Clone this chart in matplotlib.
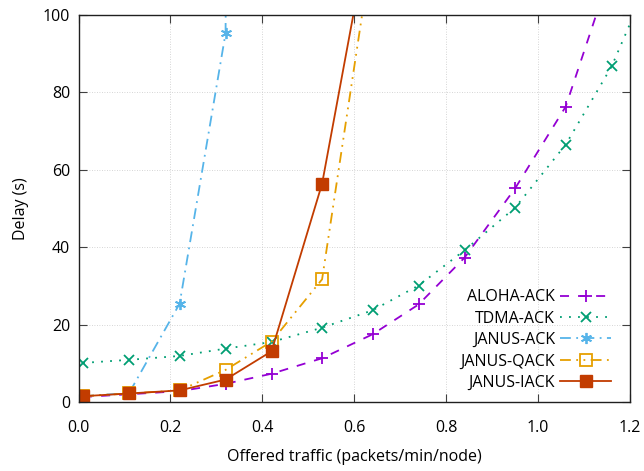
import matplotlib
matplotlib.use("Agg")
import matplotlib.pyplot as plt

plt.rcParams['font.family'] = ['Open Sans', 'DejaVu Sans']

x = [0.01, 0.11, 0.22, 0.32, 0.42, 0.53, 0.64, 0.74, 0.84, 0.95, 1.06, 1.16, 1.27]
aloha = [1.3, 2.0, 2.8, 4.7, 7.3, 11.3, 17.5, 25.2, 37.3, 55.2, 76.3, 112.0]
tdma = [10.1, 10.9, 11.9, 13.8, 15.5, 19.2, 23.7, 30.1, 39.2, 50.2, 66.5, 86.7, 117.0]
janus_ack = [1.5, 2.3, 25.4, 95.3, 2000.0]
janus_qack = [1.5, 2.2, 3.0, 8.3, 15.6, 31.7, 118.0]
janus_iack = [1.5, 2.2, 3.0, 5.8, 13.1, 56.4, 127.0]

labels = ["ALOHA-ACK", "TDMA-ACK", "JANUS-ACK", "JANUS-QACK", "JANUS-IACK"]
colors = ["#9400d3", "#009e73", "#56b4e9", "#e69f00", "#c23c00"]

fig = plt.figure(figsize=(6.44, 4.71), dpi=100)
ax = fig.add_axes([78.5/644, 1-402/471, 551.5/644, 387/471])

ax.plot(x[:len(aloha)], aloha, color=colors[0], lw=1.3, dashes=(5, 5), marker='+', ms=8, mew=1.3, label=labels[0])
ax.plot(x[:len(tdma)], tdma, color=colors[1], lw=1.3, dashes=(1, 4), marker='x', ms=7, mew=1.3, label=labels[1])
ax.plot(x[:len(janus_ack)], janus_ack, color=colors[2], lw=1.3, dashes=(6, 3, 1, 3), marker=(6, 2, 0), ms=8, mew=1.3, label=labels[2])
ax.plot(x[:len(janus_qack)], janus_qack, color=colors[3], lw=1.3, dashes=(6, 3, 1, 3, 1, 3), marker='s', ms=8, mfc='none', mew=1.3, label=labels[3])
ax.plot(x[:len(janus_iack)], janus_iack, color=colors[4], lw=1.3, marker='s', ms=8, label=labels[4])

ax.set_xlim(0, 1.2)
ax.set_ylim(0, 100)
ax.set_xticks([0.0, 0.2, 0.4, 0.6, 0.8, 1.0, 1.2])
ax.set_xticklabels(["0.0", "0.2", "0.4", "0.6", "0.8", "1.0", "1.2"])
ax.set_yticks([0, 20, 40, 60, 80, 100])
ax.grid(True, color='#c8c8c8', lw=0.6, ls=(0, (1, 2)))
ax.tick_params(direction='in', length=6, top=True, right=True, labelsize=11.5, color='#404040')
ax.tick_params(axis='x', pad=13)
ax.tick_params(axis='y', pad=6)
for s in ax.spines.values():
    s.set_color('#202020')
    s.set_linewidth(1.0)
ax.set_xlabel("Offered traffic (packets/min/node)", fontsize=11.5, labelpad=9)
ax.set_ylabel("Delay (s)", fontsize=11.5, labelpad=10)

leg = ax.legend(loc='lower right', markerfirst=False, frameon=False, fontsize=11.5,
                handlelength=3.2, handletextpad=0.3, labelspacing=0.34,
                borderaxespad=0.3, bbox_to_anchor=(0.986, 0.0))
fig.savefig("out.png", dpi=100)
